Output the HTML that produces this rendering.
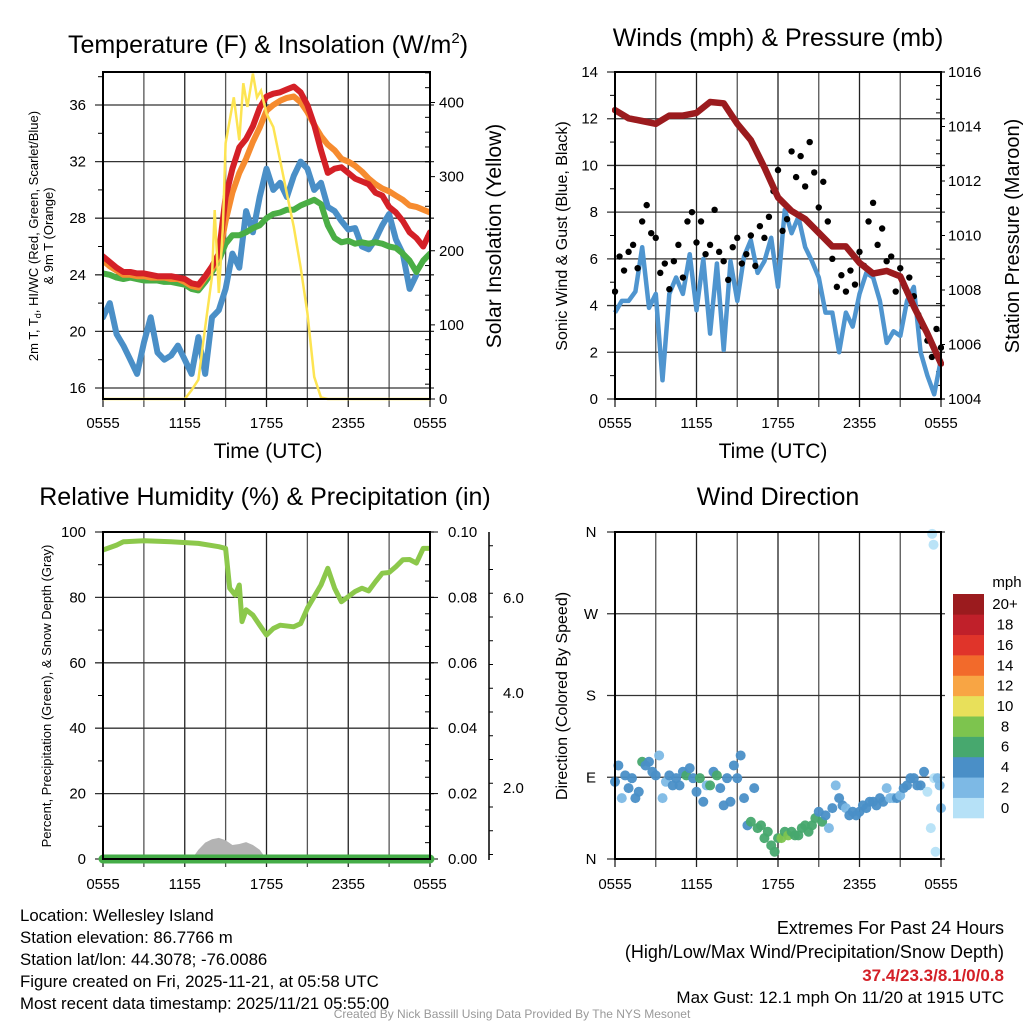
<!DOCTYPE html>
<html><head><meta charset="utf-8"><style>
body{margin:0;background:#fff}
svg text{font-family:"Liberation Sans",sans-serif;fill:#000}
</style></head><body>
<svg id="c" xmlns="http://www.w3.org/2000/svg" width="1024" height="1024" viewBox="0 0 1024 1024"></svg>
<script>
// ---------- DATA ----------
const xTickLabels=["0555","1155","1755","2355","0555"];
const tempRed=[25.3,24.9,24.5,24.2,24.2,24.1,24.1,24.0,23.9,23.9,23.9,23.8,23.7,23.4,23.3,23.9,24.6,25.5,29.5,31.5,33.0,33.6,34.5,35.8,36.6,36.8,36.9,37.1,37.3,36.9,36.0,34.6,32.8,31.2,31.5,31.6,31.2,30.8,30.6,30.4,29.8,29.6,28.8,28.4,27.8,27.0,26.6,26.0,27.0];
const temp9mOrange=[25.0,24.6,24.3,24.0,24.0,23.9,23.9,23.8,23.8,23.8,23.7,23.7,23.5,23.2,23.1,23.8,24.4,25.3,27.8,29.8,31.2,32.2,33.4,34.4,35.6,36.0,36.3,36.5,36.6,36.2,35.5,34.6,33.8,33.2,32.8,32.2,32.0,31.7,31.3,30.8,30.4,30.1,29.9,29.6,29.3,28.9,28.8,28.6,28.4];
const dewGreen=[24.1,24.0,23.8,23.7,23.8,23.7,23.6,23.6,23.6,23.5,23.5,23.4,23.3,23.0,22.9,23.5,24.2,25.0,26.2,26.8,26.8,27.0,27.3,27.5,28.0,28.3,28.4,28.6,28.6,28.9,29.1,29.3,29.0,27.5,26.6,26.3,26.4,26.2,26.3,26.2,26.3,26.2,26.0,25.9,25.5,25.0,24.2,25.0,25.5];
const windChillBlue=[21.0,22.0,19.8,19.0,18.0,17.0,19.2,21.0,18.5,18.0,18.3,19.0,18.0,17.0,19.6,17.0,21.0,21.5,23.0,25.5,24.5,28.5,27.0,29.5,31.5,30.0,30.5,29.5,31.0,32.0,31.5,30.0,30.5,28.8,28.5,27.8,27.2,27.3,26.0,25.8,26.5,27.5,28.3,26.5,25.5,23.0,24.0,null,null];
const insHours=[0,6,6.5,7,7.5,8,8.2,8.5,8.8,9,9.3,9.6,10,10.3,10.6,11,11.3,11.6,12,12.5,13,13.5,14,14.5,15,15.5,16,16.5,24];
const insValues=[0,0,12,26,97,165,255,143,232,345,376,407,349,426,394,439,407,416,385,367,322,277,232,178,116,30,2,0,0];
const windSonic=[3.7,4.2,4.2,4.6,6.5,3.9,4.5,0.8,4.5,5.2,4.5,6.2,3.8,6.0,2.8,5.8,2.1,5.9,4.2,6.1,6.8,5.4,5.9,6.9,4.8,8.1,7.1,7.8,6.5,5.9,5.2,3.7,3.7,2.0,3.7,3.1,4.5,5.4,5.2,4.2,2.4,2.9,2.7,4.2,4.8,2.0,1.0,0.2,1.7];
const gust=[4.6,6.1,5.5,6.3,6.6,5.6,7.6,8.3,7.1,6.9,5.4,5.8,4.7,5.9,6.6,5.2,7.6,8.0,6.7,7.6,6.2,6.6,8.1,6.3,5.9,5.1,6.5,6.9,5.8,6.2,7.0,5.7,7.4,6.9,7.8,8.9,9.8,7.2,7.7,10.6,9.5,10.4,9.1,11.0,9.7,8.2,9.3,7.6,6.0,4.8,5.3,4.6,5.5,4.9,6.3,5.7,7.6,8.4,6.6,7.3,5.9,6.1,4.6,5.6,4.8,5.2,4.4,3.6,3.1,2.5,1.8,3.0,2.2];
const pressure=[1014.6,1014.3,1014.2,1014.1,1014.4,1014.4,1014.5,1014.9,1014.85,1014.1,1013.5,1012.5,1011.4,1010.9,1010.6,1010.1,1009.6,1009.6,1009.0,1008.6,1008.7,1008.5,1007.4,1006.4,1005.3];
const rhHours=[0,1,1.5,3,5,7,8.5,9,9.3,9.7,10,10.2,10.5,11,11.5,12,12.5,13,14,14.5,15,16,16.5,17,17.5,18.5,19,19.5,20,20.5,21,21.5,22,22.5,23,23.5,24];
const rhValues=[94.5,96,97,97.3,97,96.5,95.5,95,82.8,80.7,83.8,72.6,76.2,74.6,71.5,68.5,70.5,71.5,71,72,76.7,83.8,88.9,82.8,78.7,81.8,82.8,82,84.8,87.4,87.6,89.4,91.5,91.6,90.5,95,95];
const precipValues=[0,0,0,0,0];
const snowHours=[6.5,7,7.5,8,8.5,9,9.5,10,10.5,11,11.5,12];
const snowValues=[0.5,0.7,0.85,0.92,0.95,0.9,0.8,0.82,0.86,0.8,0.7,0.5];
const dirHours=[0,0.25,0.5,0.75,1,1.25,1.5,1.75,2,2.25,2.5,2.75,3,3.25,3.5,3.75,4,4.25,4.5,4.75,5,5.25,5.5,5.75,6,6.25,6.5,6.75,7,7.25,7.5,7.75,8,8.25,8.5,8.75,9,9.25,9.5,9.75,10,10.25,10.5,10.75,11,11.25,11.5,11.75,12,12.25,12.5,12.75,13,13.25,13.5,13.75,14,14.25,14.5,14.75,15,15.25,15.5,15.75,16,16.25,16.5,16.75,17,17.25,17.5,17.75,18,18.25,18.5,18.75,19,19.25,19.5,19.75,20,20.25,20.5,20.75,21,21.25,21.5,21.75,22,22.25,22.5,22.75,23,23.25,23.35,23.45,23.5,23.6,23.75,23.9,24];
const dirDeg=[85,103,67,92,78,89,67,74,107,103,107,96,92,114,67,85,92,81,89,81,96,92,100,89,74,89,63,81,81,96,92,78,59,89,63,103,89,114,67,37,41,78,34,37,23,30,15,8,23,23,30,26,30,26,26,34,37,30,37,45,52,41,48,34,56,81,67,59,56,48,52,48,52,59,56,63,63,59,67,63,78,67,67,67,70,78,81,89,89,81,81,96,74,34,358,346,89,8,89,81,56];
const dirSpeed=[5,5,3,5,5,5,5,5,7,5,5,5,5,3,3,3,5,5,5,5,5,7,5,5,5,7,5,3,7,5,7,5,5,5,5,5,5,5,5,5,7,5,7,7,7,7,7,7,7,9,7,9,7,7,7,7,7,7,7,7,5,7,5,3,5,3,5,5,3,5,5,5,5,5,5,5,5,5,5,5,3,3,3,5,3,5,5,5,5,5,5,5,1,1,1,1,1,1,3,3,3];
const cbLabels=["0","2","4","6","8","10","12","14","16","18","20+"];
const cbColors=["#b6e1f7","#7db9e5","#4a8fc7","#47a86e","#7dc44e","#e8e05a","#f8a544","#f26a2b","#e0342a","#c0202a","#9b1b1e"];

// ---------- HELPERS ----------
const svg=document.getElementById('c');
const NS="http://www.w3.org/2000/svg";
function mk(tag,attrs,parent){const e=document.createElementNS(NS,tag);for(const k in attrs)e.setAttribute(k,attrs[k]);(parent||svg).appendChild(e);return e;}
function txt(s,x,y,size,anchor,parent,extra){const t=mk('text',Object.assign({x:x,y:y,'font-size':size,'text-anchor':anchor||'middle'},extra||{}),parent);t.textContent=s;return t;}
function lin(a,b,c,d){return v=>c+(v-a)*(d-c)/(b-a);}
function path(pts){let d="",pen=false;pts.forEach(p=>{if(p[1]==null||isNaN(p[1])){pen=false;return;}d+=(pen?"L":"M")+p[0].toFixed(1)+" "+p[1].toFixed(1);pen=true;});return d;}
function grp(name){const g=mk('g',{});return g;}

function frame(g,X0,X1,Y0,Y1){
  for(let h=0;h<=24;h+=3){const x=X0+(X1-X0)*h/24;const l=mk('line',{x1:x,x2:x,y1:Y0,y2:Y1+8,stroke:(h%6==0)?'#222':'#555','stroke-width':1.3},g);}
}
function hgrid(g,X0,X1,y){const l=mk('line',{x1:X0-8,x2:X1+4,y1:y,y2:y,stroke:'#333','stroke-width':1.3},g);}
function spine(g,X0,X1,Y0,Y1){const r=mk('rect',{x:X0,y:Y0,width:X1-X0,height:Y1-Y0,fill:'none',stroke:'#000','stroke-width':2},g);}
function xlabels(g,X0,X1,y){xTickLabels.forEach((s,i)=>{const t=txt(s,X0+(X1-X0)*i/(xTickLabels.length-1),y,15,'middle',g);});}
function minor(g,x,y,dir,len){mk('line',{x1:x,x2:x+dir*len,y1:y,y2:y,stroke:'#000','stroke-width':1},g);}

// ---------- PANEL 1 ----------
(function(){
const X0=103,X1=430,Y0=72,Y1=399;
const g=grp('temperature-panel');
const hx=lin(0,24,X0,X1), ty=lin(36,16,105,388), iy=lin(0,400,399,102.5);
frame(g,X0,X1,Y0,Y1);
[16,20,24,28,32,36].forEach(v=>{hgrid(g,X0,X1,ty(v));const t=txt(String(v),86,ty(v)+5,15,'end',g);});
[18,22,26,30,34,38].forEach(v=>minor(g,X0,ty(v),-1,5));
for(let v=0;v<=440;v+=20){minor(g,X1,iy(v),v%100==0?1:-1,v%100==0?5:5);}
[0,100,200,300,400].forEach(v=>{const t=txt(String(v),439,iy(v)+5,15,'start',g);});
const cl=mk('clipPath',{id:'cp1'},g);mk('rect',{x:X0,y:Y0,width:X1-X0,height:Y1-Y0+3},cl);
const pg=mk('g',{'clip-path':'url(#cp1)'},g);
function series(arr,col,name){const p=mk('path',{d:path(arr.map((v,i)=>[hx(i*24/(arr.length-1)),v==null?null:ty(v)])),fill:'none',stroke:col,'stroke-width':6,'stroke-linejoin':'round','stroke-linecap':'round'},pg);}
series(windChillBlue,'#4a8fc7','wind-chill-line');
series(dewGreen,'#4aae45','dewpoint-line');
series(temp9mOrange,'#f68b2f','temp-9m-line');
series(tempRed,'#d42027','temp-2m-line');
const ip=mk('path',{d:path(insHours.map((h,i)=>[hx(h),iy(insValues[i])])),fill:'none',stroke:'#fde452','stroke-width':2.5},pg);

spine(g,X0,X1,Y0,Y1);
xlabels(g,X0,X1,428);
const tt=txt('Time (UTC)',268,458,21,'middle',g);
const ti=mk('text',{x:268,y:53,'font-size':25,'text-anchor':'middle'},g);ti.innerHTML='Temperature (F) &amp; Insolation (W/m<tspan font-size="15" dy="-10">2</tspan><tspan dy="10">)</tspan>';

const yl=mk('text',{transform:'translate(38,236) rotate(-90)','font-size':13,'text-anchor':'middle'},g);yl.innerHTML='2m T, T<tspan font-size="9" dy="3">d</tspan><tspan dy="-3">, HI/WC (Red, Green, Scarlet/Blue)</tspan>';

const yl2=txt('& 9m T (Orange)',0,0,13,'middle',g,{transform:'translate(53,236) rotate(-90)'});
const yr=txt('Solar Insolation (Yellow)',0,0,21,'middle',g,{transform:'translate(501,236) rotate(-90)'});
})();

// ---------- PANEL 2 ----------
(function(){
const X0=615,X1=941,Y0=72,Y1=399;
const g=grp('wind-panel');
const hx=lin(0,24,X0,X1), wy=lin(0,14,399,72), py=lin(1004,1016,399,72);
frame(g,X0,X1,Y0,Y1);
for(let v=0;v<=14;v+=2){hgrid(g,X0,X1,wy(v));const t=txt(String(v),598,wy(v)+5,15,'end',g);}
for(let v=1;v<14;v+=2)minor(g,X0,wy(v),-1,5);
for(let v=1004;v<=1016;v+=0.5){minor(g,X1,py(v),v%2==0?1:-1,v%2==0?4:5);}
for(let v=1004;v<=1016;v+=2){const t=txt(String(v),948,py(v)+5,15,'start',g);}
const cl=mk('clipPath',{id:'cp2'},g);mk('rect',{x:X0-3,y:Y0,width:X1-X0+6,height:Y1-Y0+3},cl);
const pg=mk('g',{'clip-path':'url(#cp2)'},g);
const wp=mk('path',{d:path(windSonic.map((v,i)=>[hx(i*24/(windSonic.length-1)),wy(v)])),fill:'none',stroke:'#4f95cf','stroke-width':4.5,'stroke-linejoin':'round'},pg);

gust.forEach((v,i)=>{const c=mk('circle',{cx:hx(i*24/(gust.length-1)),cy:wy(v),r:3.2,fill:'#000'},pg);});
const pp=mk('path',{d:path(pressure.map((v,i)=>[hx(i*24/(pressure.length-1)),py(v)])),fill:'none',stroke:'#9b1b1e','stroke-width':6.5,'stroke-linejoin':'round','stroke-linecap':'round'},pg);

spine(g,X0,X1,Y0,Y1);
xlabels(g,X0,X1,428);
const tt=txt('Time (UTC)',773,458,21,'middle',g);
const ti=txt('Winds (mph) & Pressure (mb)',778,46,25,'middle',g);
const yl=txt('Sonic Wind & Gust (Blue, Black)',0,0,16,'middle',g,{transform:'translate(567,236) rotate(-90)'});
const yr=txt('Station Pressure (Maroon)',0,0,20,'middle',g,{transform:'translate(1019,236) rotate(-90)'});
})();

// ---------- PANEL 3 ----------
(function(){
const X0=103,X1=430,Y0=532,Y1=859;
const g=grp('humidity-panel');
const hx=lin(0,24,X0,X1), ry=lin(0,100,859,532), qy=lin(0,0.1,859,532), sy=lin(0,2,883,788);
frame(g,X0,X1,Y0,Y1);
for(let v=0;v<=100;v+=20){hgrid(g,X0,X1,ry(v));const t=txt(String(v),86,ry(v)+5,15,'end',g);}
for(let v=10;v<100;v+=20)minor(g,X0,ry(v),-1,5);
for(let v=0;v<=0.1001;v+=0.005){minor(g,X1,qy(v),Math.round(v*1000)%20==0?1:-1,Math.round(v*1000)%20==0?8:5);}
for(let v=0;v<=0.1001;v+=0.02){const t=txt(v.toFixed(2),448,qy(v)+5,15,'start',g);}
const sa=mk('line',{x1:489,x2:489,y1:532,y2:860,stroke:'#000','stroke-width':1.5},g);
for(let v=0.6;v<=7.3;v+=0.5){const y=sy(v);if(y<532||y>860)continue;minor(g,489,y,1,Math.abs(v%2)<0.01?6:4);}
[2,4,6].forEach(v=>{const t=txt(v.toFixed(1),503,sy(v)+5,15,'start',g);});
const cl=mk('clipPath',{id:'cp3'},g);mk('rect',{x:X0-10,y:Y0,width:X1-X0+20,height:Y1-Y0+10},cl);
const pg=mk('g',{'clip-path':'url(#cp3)'},g);
const spts=snowHours.map((h,i)=>[hx(h),sy(snowValues[i])]);
const sp=mk('path',{d:"M"+hx(snowHours[0])+" 859"+path(spts).replace(/^M/,"L")+"L"+hx(snowHours[snowHours.length-1])+" 859Z",fill:'#b3b3b3'},pg);

const rp=mk('path',{d:path(rhHours.map((h,i)=>[hx(h),ry(rhValues[i])])),fill:'none',stroke:'#8cc84b','stroke-width':5,'stroke-linejoin':'round'},pg);

const qp=mk('path',{d:path(precipValues.map((v,i)=>[hx(i*24/(precipValues.length-1)),qy(v)])),fill:'none',stroke:'#45ad48','stroke-width':9,'stroke-linecap':'round'},pg);

spine(g,X0,X1,Y0,Y1);
xlabels(g,X0,X1,889);
const ti=txt('Relative Humidity (%) & Precipitation (in)',265,505,25,'middle',g);
const yl=txt('Percent, Precipitation (Green), & Snow Depth (Gray)',0,0,13,'middle',g,{transform:'translate(51,696) rotate(-90)'});
})();

// ---------- PANEL 4 ----------
(function(){
const X0=615,X1=941,Y0=532,Y1=859;
const g=grp('wind-direction-panel');
const hx=lin(0,24,X0,X1), dy=lin(0,360,859,532);
frame(g,X0,X1,Y0,Y1);
const dl=["N","E","S","W","N"];
dl.forEach((s,i)=>{const y=dy(i*90);hgrid(g,X0,X1,y);const t=txt(s,591,y+5,15,'middle',g);});
dirHours.forEach((h,i)=>{const idx=Math.min(10,Math.floor(dirSpeed[i]/2));const c=mk('circle',{cx:hx(h),cy:dy(dirDeg[i]),r:5,fill:cbColors[idx],'fill-opacity':0.95});g.appendChild(c);});
spine(g,X0,X1,Y0,Y1);
xlabels(g,X0,X1,889);
const ti=txt('Wind Direction',778,505,25,'middle',g);
const yl=txt('Direction (Colored By Speed)',0,0,16,'middle',g,{transform:'translate(567,696) rotate(-90)'});
const cb=grp('speed-colorbar');
const mu=txt('mph',1007,587,15,'middle',cb);
const bh=(818-594)/cbColors.length;
cbColors.forEach((col,i)=>{const y=818-(i+1)*bh;const r=mk('rect',{x:953,y:y,width:31,height:bh+0.3,fill:col},cb);
const t=txt(cbLabels[i],1005,y+bh/2+5,15,'middle',cb);});
})();

// ---------- TEXT ----------
const info=grp('station-info');
["Location: Wellesley Island","Station elevation: 86.7766 m","Station lat/lon: 44.3078; -76.0086","Figure created on Fri, 2025-11-21, at 05:58 UTC","Most recent data timestamp: 2025/11/21 05:55:00"].forEach((s,i)=>{const t=txt(s,20,921+i*22,16.8,'start',info);});
const ex=grp('extremes-info');
const e1=txt('Extremes For Past 24 Hours',1004,934,18,'end',ex);
const e2=txt('(High/Low/Max Wind/Precipitation/Snow Depth)',1004,958,18,'end',ex);
const e3=txt('37.4/23.3/8.1/0/0.8',1004,981,17,'end',ex,{'font-weight':'bold',style:'fill:#d42027'});
const e4=txt('Max Gust: 12.1 mph On 11/20 at 1915 UTC',1004,1003,17,'end',ex);
const cr=txt('Created By Nick Bassill Using Data Provided By The NYS Mesonet',512,1018,12,'middle',svg,{style:'fill:#999'});
</script>
</body></html>
